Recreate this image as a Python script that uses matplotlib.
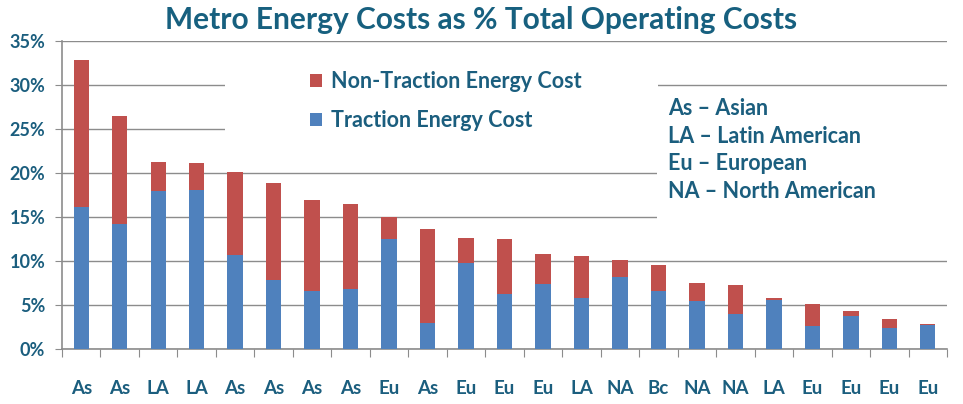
import numpy as np
import matplotlib.pyplot as plt
from matplotlib.ticker import FuncFormatter, FixedLocator

regions = ['As', 'As', 'LA', 'LA', 'As', 'As', 'As', 'As', 'Eu', 'As', 'Eu', 'Eu',
           'Eu', 'LA', 'NA', 'Bc', 'NA', 'NA', 'LA', 'Eu', 'Eu', 'Eu', 'Eu']
traction = [16.1, 14.2, 18.0, 18.1, 10.7, 7.8, 6.6, 6.8, 12.5, 3.0, 9.8, 6.3,
            7.4, 5.8, 8.2, 6.6, 5.5, 4.0, 5.6, 2.6, 3.7, 2.4, 2.7]
total = [32.8, 26.5, 21.2, 21.1, 20.1, 18.9, 16.9, 16.5, 15.0, 13.6, 12.6, 12.5,
         10.8, 10.6, 10.1, 9.5, 7.5, 7.3, 5.8, 5.1, 4.3, 3.4, 2.9]
non_traction = [t - b for t, b in zip(total, traction)]

region_notes = ['As \u2013 Asian', 'LA \u2013 Latin American',
                'Eu \u2013 European', 'NA \u2013 North American']

blue = '#4F81BD'
red = '#C0504D'
txt = '#1B5E7E'
plt.rcParams['font.family'] = ['Lato', 'DejaVu Sans']
plt.rcParams['font.weight'] = 'bold'

fig = plt.figure(figsize=(9.63, 4.04), dpi=100)
ax = fig.add_axes([0.0644, 0.136, 0.919, 0.763])

x = np.arange(len(regions))
ax.bar(x, traction, width=0.4, color=blue, label='Traction Energy Cost', zorder=3)
ax.bar(x, non_traction, width=0.4, bottom=traction, color=red,
       label='Non-Traction Energy Cost', zorder=3)

ax.set_xlim(-0.5, len(regions) - 0.5)
ax.set_ylim(0, 35)
ax.set_yticks(np.arange(0, 36, 5))
ax.yaxis.set_major_formatter(FuncFormatter(lambda v, p: '%d%%' % v))
ax.grid(axis='y', color='#8c8c8c', linewidth=1.0, zorder=0)
ax.set_axisbelow(True)

ax.xaxis.set_major_locator(FixedLocator(np.arange(-0.5, len(regions), 1)))
ax.set_xticklabels([])
ax.xaxis.set_minor_locator(FixedLocator(x))
ax.set_xticklabels(regions, minor=True)
ax.tick_params(axis='x', which='major', length=6, color='#8c8c8c', direction='out')
ax.tick_params(axis='x', which='minor', length=0, pad=22, labelsize=13.5, labelcolor=txt)
ax.tick_params(axis='y', length=5, color='#8c8c8c', labelsize=13, labelcolor=txt, pad=7)

for s in ['top', 'right']:
    ax.spines[s].set_visible(False)
for s in ['left', 'bottom']:
    ax.spines[s].set_color('#8c8c8c')
    ax.spines[s].set_linewidth(1.2)

# white boxes hiding gridlines behind the keys
ax.add_patch(plt.Rectangle((3.74, 21.5), 11.25, 13.0, facecolor='white',
                           edgecolor='none', zorder=1))
ax.add_patch(plt.Rectangle((14.95, 12.5), 8.1, 17.2, facecolor='white',
                           edgecolor='none', zorder=1))

handles, labels = ax.get_legend_handles_labels()
leg = ax.legend(handles[::-1], labels[::-1], loc='upper left',
                bbox_to_anchor=(0.28, 0.902), frameon=False, fontsize=15.5,
                handlelength=0.55, handleheight=0.55, handletextpad=0.45,
                labelspacing=0.85, borderpad=0, borderaxespad=0)
for t in leg.get_texts():
    t.set_color(txt)

ax.text(0.685, 0.815, '\n'.join(region_notes), transform=ax.transAxes,
        fontsize=15.5, color=txt, va='top', ha='left', linespacing=1.4, zorder=4)

fig.suptitle('Metro Energy Costs as % Total Operating Costs', x=0.5, y=0.985,
             fontsize=21.5, color='#17607F', fontweight='bold')

fig.savefig('out.png', dpi=100)
